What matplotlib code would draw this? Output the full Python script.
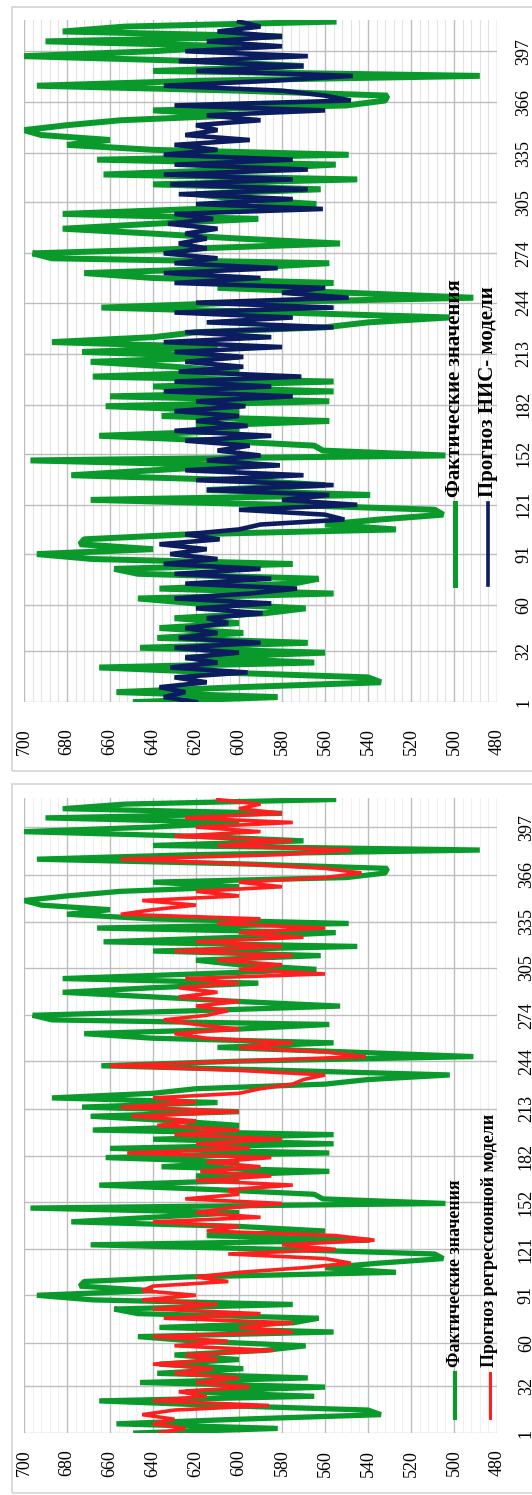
import matplotlib
matplotlib.use("Agg")
import matplotlib.pyplot as plt
from matplotlib.patches import Rectangle
from matplotlib.lines import Line2D
from matplotlib.ticker import MultipleLocator, FixedLocator

# ---------------- data ----------------
actual = [648, 582, 657, 600, 534, 540, 610, 665, 565, 625,
          560, 646, 568, 638, 598, 637, 600, 630, 588, 569,
          620, 647, 556, 637, 575, 563, 647, 658, 575, 668,
          694, 640, 674, 672, 624, 527, 560, 535, 505, 509,
          580, 669, 539, 615, 560, 600, 678, 640, 600, 697,
          504, 561, 565, 610, 665, 600, 620, 558, 636, 600,
          662, 558, 660, 556, 640, 556, 668, 600, 630, 669,
          600, 673, 610, 687, 640, 620, 560, 540, 502, 580,
          664, 600, 491, 549, 610, 556, 640, 672, 600, 558,
          687, 696, 620, 553, 600, 640, 682, 640, 591, 682,
          620, 564, 600, 620, 562, 640, 545, 663, 600, 555,
          666, 549, 640, 680, 660, 692, 700, 680, 655, 600,
          640, 550, 532, 531, 600, 694, 620, 488, 640, 570,
          620, 700, 640, 600, 690, 580, 682, 653, 556]

nn_forecast = [620, 635, 625, 637, 615, 630, 596, 632, 610, 625,
               600, 630, 590, 628, 610, 625, 605, 615, 589, 620,
               585, 630, 595, 573, 625, 585, 630, 590, 635, 610,
               632, 615, 637, 609, 625, 600, 590, 551, 560, 600,
               545, 580, 558, 615, 556, 620, 570, 625, 581, 615,
               590, 610, 595, 625, 585, 630, 596, 620, 600, 630,
               597, 620, 575, 635, 585, 630, 571, 628, 598, 625,
               598, 630, 580, 635, 585, 625, 556, 615, 575, 630,
               556, 620, 549, 580, 560, 630, 590, 635, 582, 630,
               610, 635, 615, 628, 615, 625, 610, 633, 612, 630,
               561, 620, 575, 628, 568, 632, 575, 635, 568, 630,
               575, 635, 610, 630, 595, 625, 610, 620, 590, 615,
               560, 630, 548, 560, 580, 635, 585, 547, 620, 570,
               628, 568, 625, 580, 615, 580, 610, 590, 600]

reg_forecast = [637, 625, 640, 630, 645, 630, 586, 640, 615, 628,
                595, 620, 600, 630, 612, 640, 610, 625, 584, 630,
                605, 640, 575, 600, 575, 635, 590, 640, 610, 645,
                620, 645, 640, 605, 620, 600, 570, 548, 560, 605,
                555, 580, 537, 555, 615, 600, 640, 590, 620, 605,
                580, 625, 600, 605, 575, 620, 585, 618, 590, 615,
                585, 652, 595, 620, 580, 630, 600, 638, 620, 650,
                600, 655, 620, 640, 600, 590, 575, 570, 560, 600,
                660, 600, 541, 560, 600, 575, 615, 630, 600, 620,
                635, 615, 605, 620, 600, 628, 610, 628, 600, 625,
                560, 600, 580, 610, 575, 630, 580, 620, 570, 600,
                560, 610, 590, 655, 640, 620, 645, 600, 620, 580,
                600, 560, 543, 560, 600, 655, 580, 548, 610, 575,
                630, 590, 620, 575, 625, 580, 600, 590, 610]

days = list(range(1, 3 * len(actual), 3))
cat_ticks = [1, 32, 60, 91, 121, 152, 182, 213, 244, 274, 305, 335, 366, 397]
val_ticks = [480, 500, 520, 540, 560, 580, 600, 620, 640, 660, 680, 700]

label_actual = "Фактические значения"
label_nn = "Прогноз НИС- модели"
label_reg = "Прогноз регрессионной модели"

GREEN = "#0a9a2c"
NAVY = "#0b1d5e"
RED = "#ff1f1f"

W, H = 532, 1495
fig = plt.figure(figsize=(W / 100, H / 100), dpi=100)
fig.patch.set_facecolor("white")

SERIF = ["Liberation Serif", "DejaVu Serif"]


def fx(px):
    return px / W


def fy(py):
    return 1 - py / H


def make_axes(top, bottom, minor_col, val_pad, cat_pad, font_size):
    ax = fig.add_axes([fx(24), fy(bottom), fx(497) - fx(24), fy(top) - fy(bottom)])
    ax.set_xlim(700, 480)
    ax.set_ylim(1, 416)
    for s in ax.spines.values():
        s.set_visible(False)
    ax.xaxis.set_major_locator(FixedLocator(val_ticks))
    ax.xaxis.set_minor_locator(MultipleLocator(4))
    ax.yaxis.set_major_locator(FixedLocator(cat_ticks))
    ax.grid(which="major", axis="both", color="#bdbdbd", lw=1.0)
    ax.grid(which="minor", axis="x", color=minor_col, lw=0.8)
    ax.set_axisbelow(True)
    ax.yaxis.tick_right()
    ax.tick_params(axis="both", which="both", length=0)
    ax.tick_params(axis="x", pad=val_pad, labelrotation=90, labelsize=font_size)
    ax.tick_params(axis="y", pad=cat_pad, labelrotation=90, labelsize=font_size)
    ax.set_xticklabels([str(v) for v in val_ticks], family=SERIF)
    ax.set_yticklabels([str(c) for c in cat_ticks], family=SERIF)
    for lab in ax.get_yticklabels():
        lab.set_va("center")
        lab.set_ha("left")
    return ax


# frames
fig.patches.append(Rectangle((fx(12), fy(771)), fx(540) - fx(12), fy(7) - fy(771),
                             transform=fig.transFigure, fill=False,
                             edgecolor="#d4d4d4", lw=1.2))
fig.patches.append(Rectangle((fx(12), fy(1493)), fx(540) - fx(12), fy(784) - fy(1493),
                             transform=fig.transFigure, fill=False,
                             edgecolor="#d4d4d4", lw=1.2))

# ---------- top panel: actual vs NN ----------
ax1 = make_axes(20, 702, "#e3e3e3", 19, 13, 13)
ax1.plot(actual, days, color=GREEN, lw=4.3, solid_joinstyle="bevel")
ax1.plot(nn_forecast, days, color=NAVY, lw=3.3, solid_joinstyle="bevel")

# ---------- bottom panel: actual vs regression ----------
ax2 = make_axes(798, 1433, "#efefef", 12, 15, 13)
ax2.plot(actual, days, color=GREEN, lw=3.8, solid_joinstyle="bevel")
ax2.plot(reg_forecast, days, color=RED, lw=2.6, solid_joinstyle="bevel")

# ---------- legends (rotated like the chart) ----------
def legend_entry(x, y0, y1, color, lw, text, size):
    fig.add_artist(Line2D([fx(x), fx(x)], [fy(y1), fy(y0)], transform=fig.transFigure,
                          color=color, lw=lw))
    fig.text(fx(x), fy(y0 - 6), text, rotation=90, rotation_mode="anchor",
             ha="left", va="center", fontsize=size, fontweight="bold",
             family=SERIF, color="black")


legend_entry(455, 503, 585, GREEN, 3.6, label_actual, 15)
legend_entry(488, 503, 585, NAVY, 2.6, label_nn, 15)
legend_entry(455, 1373, 1418, GREEN, 3.0, label_actual, 13)
legend_entry(490, 1373, 1418, RED, 2.2, label_reg, 13)

fig.savefig("out.png", dpi=100)
